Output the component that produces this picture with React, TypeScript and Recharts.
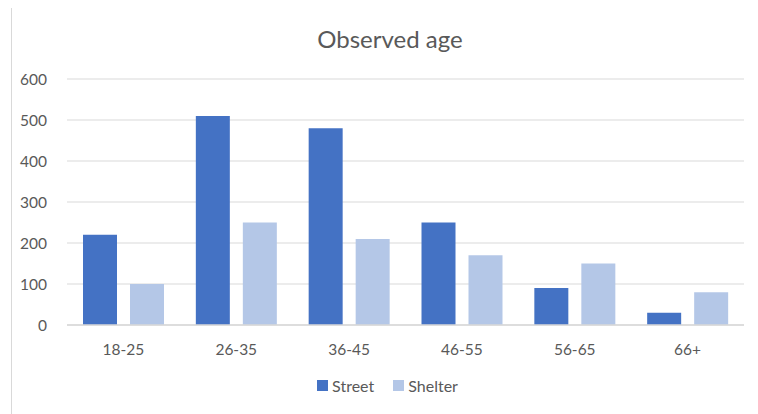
import React from "react";
import { BarChart, Bar, XAxis, YAxis, CartesianGrid, Legend } from "recharts";

const categories = ["18-25", "26-35", "36-45", "46-55", "56-65", "66+"];
const streetValues = [220, 510, 480, 250, 90, 30];
const shelterValues = [100, 250, 210, 170, 150, 80];
const yTicks = [0, 100, 200, 300, 400, 500, 600];
const seriesNames = ["Street", "Shelter"];
const seriesColors = ["#4472C4", "#B4C7E7"];

const data = categories.map((c, i) => ({ name: c, Street: streetValues[i], Shelter: shelterValues[i] }));

const FONT = "Lato, 'Liberation Sans', sans-serif";

const LegendContent = () => (
  <div
    style={{
      display: "flex",
      justifyContent: "center",
      alignItems: "center",
      height: 22,
      fontFamily: FONT,
      fontSize: 16,
      color: "#595959",
      paddingLeft: 22,
    }}
  >
    {seriesNames.map((n, i) => (
      <div key={n} style={{ display: "flex", alignItems: "center", marginRight: i === 0 ? 19 : 0 }}>
        <span style={{ display: "inline-block", width: 11, height: 11, background: seriesColors[i], marginRight: 4 }} />
        <span>{n}</span>
      </div>
    ))}
  </div>
);

export default function App() {
  return (
    <div
      style={{
        position: "relative",
        marginTop: -2,
        marginLeft: 3,
        width: 747,
        height: 408,
        borderTop: "1px solid #d9d9d9",
        borderLeft: "1px solid #d9d9d9",
        boxSizing: "border-box",
        fontFamily: FONT,
        background: "#fff",
      }}
    >
      <div
        style={{
          position: "absolute",
          top: 17,
          left: -3,
          width: 762,
          textAlign: "center",
          fontSize: 24,
          color: "#595959",
        }}
      >
        Observed age
      </div>
      <div style={{ position: "absolute", left: -3, top: 0 }}>
        <BarChart
          width={742}
          height={402}
          data={data}
          margin={{ top: 72, right: 7, left: 0, bottom: 13 }}
          barCategoryGap={16}
          barGap={13}
        >
          <CartesianGrid vertical={false} stroke="#d9d9d9" />
          <XAxis
            dataKey="name"
            tickLine={false}
            axisLine={{ stroke: "#d9d9d9", strokeWidth: 1.5 }}
            tick={{ fill: "#595959", fontSize: 15.5, fontFamily: FONT }}
            tickMargin={13}
            height={49}
          />
          <YAxis
            domain={[0, 600]}
            ticks={yTicks}
            width={58}
            tickLine={false}
            axisLine={false}
            tick={{ fill: "#595959", fontSize: 15.5, fontFamily: FONT }}
            tickMargin={14}
          />
          <Legend verticalAlign="bottom" align="center" content={<LegendContent />} />
          <Bar dataKey="Street" fill={seriesColors[0]} isAnimationActive={false} />
          <Bar dataKey="Shelter" fill={seriesColors[1]} isAnimationActive={false} />
        </BarChart>
      </div>
    </div>
  );
}
